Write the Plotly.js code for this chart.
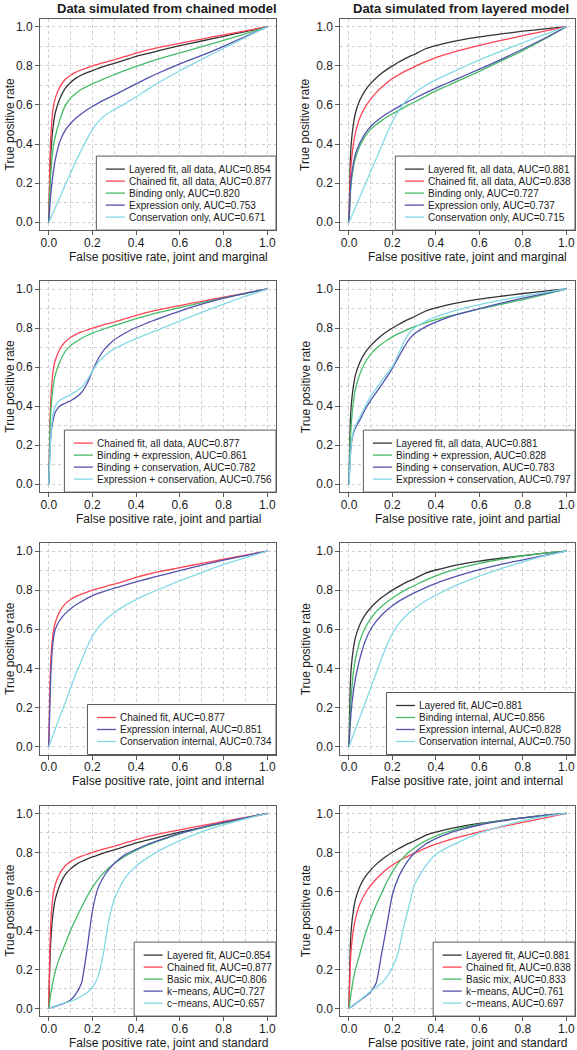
<!DOCTYPE html>
<html><head><meta charset="utf-8">
<script src="https://cdn.plot.ly/plotly-3.0.1.min.js"></script>
<style>html,body{margin:0;padding:0;background:#fff}</style>
</head><body><div id="chart" style="width:577px;height:1050px"></div>
<script>
// ---------- DATA ----------
const fpr = [0,0.005,0.01,0.02,0.03,0.05,0.075,0.1,0.125,0.15,0.175,0.2,0.225,0.25,0.275,0.3,0.35,0.4,0.45,0.5,0.6,0.7,0.8,0.9,1];

// Data simulated from chained model (left column)
const chainedSim_layeredFit   = [0,0.22,0.36,0.49,0.56,0.63,0.685,0.715,0.737,0.753,0.765,0.776,0.786,0.796,0.805,0.813,0.83,0.848,0.862,0.877,0.903,0.927,0.951,0.975,1];
const chainedSim_chainedFit   = [0,0.3,0.45,0.58,0.635,0.69,0.73,0.752,0.768,0.78,0.79,0.8,0.808,0.816,0.824,0.831,0.848,0.865,0.88,0.893,0.915,0.937,0.958,0.979,1];
const chainedSim_binding      = [0,0.15,0.26,0.38,0.44,0.52,0.595,0.635,0.66,0.68,0.695,0.708,0.72,0.732,0.744,0.755,0.777,0.797,0.816,0.834,0.866,0.898,0.93,0.964,1];
const chainedSim_expression   = [0,0.08,0.15,0.25,0.32,0.41,0.47,0.505,0.533,0.555,0.575,0.592,0.608,0.623,0.637,0.65,0.68,0.708,0.736,0.762,0.81,0.853,0.9,0.95,1];
const chainedSim_conservation = [0,0.012,0.025,0.05,0.075,0.125,0.19,0.252,0.315,0.37,0.425,0.475,0.512,0.54,0.56,0.577,0.607,0.642,0.677,0.712,0.775,0.833,0.89,0.945,1];
const chainedSim_bindExpr     = [0,0.25,0.38,0.5,0.56,0.625,0.68,0.71,0.73,0.748,0.762,0.774,0.785,0.795,0.804,0.813,0.83,0.848,0.864,0.879,0.905,0.93,0.954,0.977,1];
const chainedSim_bindCons     = [0,0.15,0.25,0.33,0.37,0.4,0.415,0.428,0.445,0.47,0.515,0.58,0.64,0.685,0.715,0.74,0.775,0.803,0.826,0.847,0.887,0.922,0.953,0.978,1];
const chainedSim_exprCons     = [0,0.15,0.26,0.36,0.4,0.43,0.445,0.46,0.476,0.497,0.533,0.58,0.622,0.652,0.675,0.694,0.722,0.746,0.769,0.791,0.836,0.88,0.923,0.963,1];
const chainedSim_exprInternal = [0,0.2,0.38,0.54,0.6,0.645,0.68,0.705,0.725,0.742,0.758,0.772,0.783,0.793,0.802,0.81,0.826,0.842,0.857,0.872,0.9,0.928,0.953,0.977,1];
const chainedSim_consInternal = [0,0.015,0.03,0.06,0.09,0.15,0.225,0.3,0.375,0.44,0.508,0.565,0.605,0.637,0.663,0.685,0.722,0.752,0.778,0.802,0.848,0.89,0.93,0.966,1];
const chainedSim_basicMix     = [0,0.04,0.08,0.14,0.19,0.26,0.33,0.4,0.46,0.518,0.572,0.62,0.66,0.693,0.72,0.743,0.78,0.81,0.835,0.857,0.895,0.925,0.951,0.976,1];
const chainedSim_kmeans       = [0,0.001,0.003,0.006,0.01,0.017,0.028,0.043,0.075,0.13,0.3,0.5,0.615,0.672,0.712,0.743,0.788,0.815,0.84,0.86,0.897,0.927,0.953,0.977,1];
const chainedSim_cmeans       = [0,0.002,0.004,0.008,0.012,0.02,0.028,0.036,0.047,0.062,0.08,0.108,0.16,0.28,0.45,0.56,0.67,0.73,0.77,0.805,0.86,0.905,0.942,0.972,1];

// Data simulated from layered model (right column)
const layeredSim_layeredFit   = [0,0.28,0.4,0.5,0.56,0.625,0.675,0.71,0.738,0.762,0.782,0.8,0.817,0.832,0.846,0.858,0.886,0.903,0.917,0.929,0.948,0.963,0.977,0.989,1];
const layeredSim_chainedFit   = [0,0.2,0.3,0.4,0.46,0.535,0.59,0.63,0.663,0.69,0.714,0.735,0.752,0.768,0.782,0.795,0.82,0.842,0.86,0.876,0.905,0.93,0.954,0.977,1];
const layeredSim_binding      = [0,0.12,0.2,0.28,0.33,0.39,0.44,0.475,0.5,0.52,0.538,0.555,0.57,0.585,0.6,0.614,0.643,0.672,0.697,0.722,0.772,0.825,0.878,0.937,1];
const layeredSim_expression   = [0,0.13,0.22,0.3,0.35,0.405,0.455,0.49,0.515,0.537,0.556,0.573,0.589,0.604,0.619,0.633,0.66,0.686,0.711,0.735,0.783,0.833,0.886,0.941,1];
const layeredSim_conservation = [0,0.013,0.026,0.052,0.078,0.13,0.195,0.26,0.325,0.39,0.455,0.515,0.565,0.605,0.635,0.66,0.698,0.728,0.755,0.78,0.83,0.875,0.918,0.96,1];
const layeredSim_bindExpr     = [0,0.2,0.3,0.42,0.49,0.565,0.625,0.665,0.695,0.718,0.738,0.755,0.77,0.783,0.795,0.806,0.826,0.843,0.858,0.872,0.898,0.922,0.946,0.972,1];
const layeredSim_bindCons     = [0,0.12,0.2,0.26,0.29,0.33,0.385,0.43,0.47,0.51,0.55,0.595,0.645,0.695,0.74,0.77,0.805,0.83,0.852,0.87,0.9,0.928,0.953,0.977,1];
const layeredSim_exprCons     = [0,0.12,0.2,0.27,0.3,0.345,0.4,0.45,0.49,0.53,0.565,0.605,0.66,0.725,0.77,0.8,0.833,0.857,0.877,0.893,0.92,0.943,0.963,0.982,1];
const layeredSim_bindInternal = [0,0.15,0.25,0.38,0.45,0.54,0.61,0.655,0.69,0.717,0.74,0.76,0.778,0.795,0.81,0.823,0.85,0.873,0.893,0.91,0.937,0.958,0.975,0.989,1];
const layeredSim_exprInternal = [0,0.1,0.18,0.28,0.35,0.45,0.54,0.6,0.64,0.672,0.698,0.72,0.74,0.757,0.772,0.786,0.812,0.835,0.855,0.873,0.905,0.932,0.955,0.978,1];
const layeredSim_consInternal = [0,0.015,0.03,0.06,0.09,0.15,0.225,0.3,0.375,0.45,0.52,0.58,0.622,0.655,0.682,0.705,0.743,0.775,0.803,0.828,0.872,0.91,0.945,0.975,1];
const layeredSim_basicMix     = [0,0.04,0.08,0.15,0.2,0.28,0.38,0.46,0.53,0.59,0.65,0.7,0.742,0.774,0.8,0.822,0.857,0.883,0.903,0.92,0.944,0.962,0.977,0.99,1];
const layeredSim_kmeans       = [0,0.003,0.007,0.015,0.023,0.04,0.06,0.085,0.13,0.28,0.43,0.585,0.665,0.72,0.762,0.795,0.84,0.87,0.893,0.912,0.94,0.96,0.976,0.989,1];
const layeredSim_cmeans       = [0,0.004,0.008,0.017,0.025,0.042,0.065,0.088,0.108,0.13,0.163,0.21,0.28,0.41,0.52,0.63,0.725,0.79,0.823,0.85,0.898,0.933,0.962,0.984,1];

// Text
const columnTitles = ['Data simulated from chained model', 'Data simulated from layered model'];
const rowXTitles = ['False positive rate, joint and marginal', 'False positive rate, joint and partial',
                    'False positive rate, joint and internal', 'False positive rate, joint and standard'];
const yTitle = 'True positive rate';
const tickValues = [0, 0.2, 0.4, 0.6, 0.8, 1.0];

const legendP1 = ['Layered fit, all data, AUC=0.854','Chained fit, all data, AUC=0.877','Binding only, AUC=0.820','Expression only, AUC=0.753','Conservation only, AUC=0.671'];
const legendP2 = ['Layered fit, all data, AUC=0.881','Chained fit, all data, AUC=0.838','Binding only, AUC=0.727','Expression only, AUC=0.737','Conservation only, AUC=0.715'];
const legendP3 = ['Chained fit, all data, AUC=0.877','Binding + expression, AUC=0.861','Binding + conservation, AUC=0.782','Expression + conservation, AUC=0.756'];
const legendP4 = ['Layered fit, all data, AUC=0.881','Binding + expression, AUC=0.828','Binding + conservation, AUC=0.783','Expression + conservation, AUC=0.797'];
const legendP5 = ['Chained fit, AUC=0.877','Expression internal, AUC=0.851','Conservation internal, AUC=0.734'];
const legendP6 = ['Layered fit, AUC=0.881','Binding internal, AUC=0.856','Expression internal, AUC=0.828','Conservation internal, AUC=0.750'];
const legendP7 = ['Layered fit, AUC=0.854','Chained fit, AUC=0.877','Basic mix, AUC=0.806','k\u2212means, AUC=0.727','c\u2212means, AUC=0.657'];
const legendP8 = ['Layered fit, AUC=0.881','Chained fit, AUC=0.838','Basic mix, AUC=0.833','k\u2212means, AUC=0.761','c\u2212means, AUC=0.697'];

// ---------- STYLE / LAYOUT ----------
const COL = {black:'#333333', red:'#ff4455', green:'#44bb66', purple:'#5252ae', cyan:'#84d9e6'};
const W = 577, H = 1050;
const colBox = [[40, 276], [340.3, 575]];
const rowBox = [[18.9, 230.1], [281.2, 492.1], [543.2, 754.5], [805.5, 1016.1]];
const yTitleX = [10, 305.5];
const textCenterX = [168, 467];
const FONT = '"Liberation Sans", Arial, sans-serif';
const TXT = '#1a1a1a';
const LINEC = '#5a5a5a';

const panels = [
  {r:0, c:0, ys:[chainedSim_layeredFit, chainedSim_chainedFit, chainedSim_binding, chainedSim_expression, chainedSim_conservation], cols:['black','red','green','purple','cyan'], labels:legendP1},
  {r:0, c:1, ys:[layeredSim_layeredFit, layeredSim_chainedFit, layeredSim_binding, layeredSim_expression, layeredSim_conservation], cols:['black','red','green','purple','cyan'], labels:legendP2},
  {r:1, c:0, ys:[chainedSim_chainedFit, chainedSim_bindExpr, chainedSim_bindCons, chainedSim_exprCons], cols:['red','green','purple','cyan'], labels:legendP3},
  {r:1, c:1, ys:[layeredSim_layeredFit, layeredSim_bindExpr, layeredSim_bindCons, layeredSim_exprCons], cols:['black','green','purple','cyan'], labels:legendP4},
  {r:2, c:0, ys:[chainedSim_chainedFit, chainedSim_exprInternal, chainedSim_consInternal], cols:['red','purple','cyan'], labels:legendP5},
  {r:2, c:1, ys:[layeredSim_layeredFit, layeredSim_bindInternal, layeredSim_exprInternal, layeredSim_consInternal], cols:['black','green','purple','cyan'], labels:legendP6},
  {r:3, c:0, ys:[chainedSim_layeredFit, chainedSim_chainedFit, chainedSim_basicMix, chainedSim_kmeans, chainedSim_cmeans], cols:['black','red','green','purple','cyan'], labels:legendP7},
  {r:3, c:1, ys:[layeredSim_layeredFit, layeredSim_chainedFit, layeredSim_basicMix, layeredSim_kmeans, layeredSim_cmeans], cols:['black','red','green','purple','cyan'], labels:legendP8}
];

const ctx = document.createElement('canvas').getContext('2d');
ctx.font = '10px "Liberation Sans"';
const tw = s => ctx.measureText(s).width;
const px = x => x / W, py = y => 1 - y / H;

const traces = [], shapes = [], annotations = [];
const layout = {
  width: W, height: H, margin: {l:0, r:0, t:0, b:0},
  paper_bgcolor: '#fff', plot_bgcolor: '#fff', showlegend: false,
  font: {family: FONT, color: TXT}
};

function axisBase() {
  return {
    range: [-0.04, 1.04], tickmode: 'array', tickvals: tickValues, tickformat: '.1f',
    ticks: 'outside', ticklen: 4, tickwidth: 1, tickcolor: LINEC,
    showline: true, mirror: true, linecolor: LINEC, linewidth: 1,
    showgrid: true, gridcolor: '#cfcfcf', griddash: 'dot', gridwidth: 1,
    minor: {tickvals: [0.1,0.3,0.5,0.7,0.9], showgrid: true, gridcolor: '#cfcfcf', griddash: 'dot', gridwidth: 1, ticks: ''},
    zeroline: false, fixedrange: true,
    tickfont: {family: FONT, size: 12, color: TXT}
  };
}

panels.forEach((p, i) => {
  const k = i === 0 ? '' : String(i + 1);
  const xa = 'x' + k, ya = 'y' + k;
  const [bl, br] = colBox[p.c];
  const [bt, bb] = rowBox[p.r];
  const xax = axisBase();
  xax.domain = [bl / W, br / W];
  xax.anchor = ya;
  xax.ticklabelstandoff = -3;
  const yax = axisBase();
  yax.domain = [1 - bb / H, 1 - bt / H];
  yax.anchor = xa;
  layout['xaxis' + k] = xax;
  layout['yaxis' + k] = yax;

  // axis titles
  annotations.push({xref:'paper', yref:'paper', x: px(textCenterX[p.c]), y: py(bb + 26.5), xanchor:'center', yanchor:'middle',
                    text: rowXTitles[p.r], showarrow:false, borderpad:0, font:{family: FONT, size: 12, color: TXT}});
  annotations.push({xref:'paper', yref:'paper', x: px(yTitleX[p.c]), y: py((bt + bb) / 2), xanchor:'center', yanchor:'middle',
                    textangle: -90, text: yTitle, showarrow:false, borderpad:0, font:{family: FONT, size: 12, color: TXT}});

  p.ys.forEach((y, j) => {
    traces.push({
      type: 'scatter', mode: 'lines', x: fpr, y: y, xaxis: xa, yaxis: ya,
      name: p.labels[j], line: {color: COL[p.cols[j]], width: 1.3, shape: 'spline', smoothing: 0.6},
      hoverinfo: 'skip'
    });
  });

  // legend box (bottom-right of the plot region)
  const n = p.labels.length;
  const h = 12 * (n - 1) + 26;
  const top = bb - h;
  const maxW = Math.max(...p.labels.map(tw));
  const left = br - (9.5 + 19 + 5 + maxW + 3);
  shapes.push({type:'rect', xref:'paper', yref:'paper', x0:px(left), x1:px(br), y0:py(bb), y1:py(top),
               fillcolor:'#fff', line:{color:LINEC, width:1}, layer:'above'});
  p.labels.forEach((lab, j) => {
    const yc = top + 13 + 12 * j;
    shapes.push({type:'line', xref:'paper', yref:'paper', x0:px(left + 9.5), x1:px(left + 28.5), y0:py(yc), y1:py(yc),
                 line:{color: COL[p.cols[j]], width: 1.3}, layer:'above'});
    annotations.push({xref:'paper', yref:'paper', x:px(left + 31.5), y:py(yc), xanchor:'left', yanchor:'middle',
                      text: lab, showarrow:false, borderpad:0, font:{family: FONT, size: 10, color: TXT}});
  });
});

[167, 461].forEach((cx, c) => {
  annotations.push({xref:'paper', yref:'paper', x: px(cx), y: 1, xanchor:'center', yanchor:'top',
                    text: columnTitles[c], showarrow:false, borderpad:0, font:{family: FONT, size: 13, weight: 'bold', color: TXT}});
});

layout.shapes = shapes;
layout.annotations = annotations;

Plotly.newPlot('chart', traces, layout, {displayModeBar: false, staticPlot: true});
</script>
</body></html>
